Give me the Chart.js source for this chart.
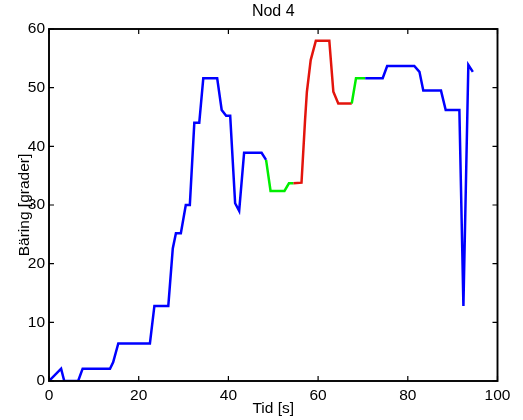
<!DOCTYPE html>
<html>
<head>
<meta charset="utf-8">
<script src="https://cdn.jsdelivr.net/npm/chart.js@4.4.0/dist/chart.umd.min.js"></script>
<style>
  html, body { margin: 0; padding: 0; background: #fff; }
  #wrap { width: 523px; height: 420px; }
</style>
</head>
<body>
<div id="wrap"><canvas id="c" width="523" height="420"></canvas></div>
<script>
// ---- data ----
const chartTitle = "Nod 4";
const xTitle = "Tid [s]";
const yTitle = "Bäring [grader]";
const xTicks = [0, 20, 40, 60, 80, 100];
const yTicks = [0, 10, 20, 30, 40, 50, 60];

const time = [0, 2.7, 3.4, 6.5, 7.5, 13.6, 14.3, 15.45, 22.5, 23.5, 26.6, 27.6, 28.3, 29.4,
  30.5, 31.4, 32.4, 33.5, 34.4, 37.5, 38.5, 39.5, 40.4, 41.5, 42.4, 43.5, 47.4, 48.4,
  49.4, 52.5, 53.5, 54.5, 56.3, 57.1, 57.5, 58.35, 59.5, 62.5, 63.4, 64.5, 67.5,
  68.45, 70.5, 74.4, 75.4, 81.45, 82.6, 83.45, 87.4, 88.45, 91.5, 92.4, 93.5, 94.5];
const bearing = [0, 2.1, 0, 0, 2.1, 2.1, 3.2, 6.4, 6.4, 12.8, 12.8, 22.6, 25.2, 25.2,
  30, 30, 44, 44, 51.6, 51.6, 46.2, 45.2, 45.2, 30.3, 29, 38.9, 38.9, 37.7,
  32.4, 32.4, 33.7, 33.7, 33.8, 44.6, 49.3, 54.7, 58, 58, 49.3, 47.3, 47.3,
  51.6, 51.6, 51.6, 53.7, 53.7, 52.7, 49.5, 49.5, 46.2, 46.2, 12.8, 53.9, 52.7];

// time ranges drawn in other colours
const greenRanges = [[48.4, 54.5], [67.5, 70.5]];
const redRanges = [[54.5, 67.5]];

const colBlue = "#0000ff";
const colGreen = "#00ee00";
const colRed = "#e3140c";

const points = time.map((t, i) => ({ x: t, y: bearing[i] }));

function inRanges(v, ranges) {
  return ranges.some(r => v >= r[0] && v <= r[1]);
}
function segColor(ctx) {
  const mid = (ctx.p0.parsed.x + ctx.p1.parsed.x) / 2;
  if (inRanges(mid, redRanges)) return colRed;
  if (inRanges(mid, greenRanges)) return colGreen;
  return colBlue;
}

const FONT = "'Liberation Sans', Arial, Helvetica, sans-serif";
const FS = 15.5;

const framePlugin = {
  id: 'frame',
  afterDraw(chart) {
    const { ctx, chartArea: a, scales } = chart;
    ctx.save();
    ctx.strokeStyle = '#000';
    ctx.lineWidth = 1.2;
    const tl = 5;
    ctx.beginPath();
    xTicks.forEach(v => {
      const px = scales.x.getPixelForValue(v);
      ctx.moveTo(px, a.bottom); ctx.lineTo(px, a.bottom - tl);
      ctx.moveTo(px, a.top); ctx.lineTo(px, a.top + tl);
    });
    yTicks.forEach(v => {
      const py = scales.y.getPixelForValue(v);
      ctx.moveTo(a.left, py); ctx.lineTo(a.left + tl, py);
      ctx.moveTo(a.right, py); ctx.lineTo(a.right - tl, py);
    });
    ctx.stroke();
    ctx.lineWidth = 1.9;
    ctx.strokeRect(a.left, a.top, a.right - a.left, a.bottom - a.top);
    // title centred over the plot area
    ctx.fillStyle = '#000';
    ctx.font = "16px " + FONT;
    ctx.textAlign = 'center';
    ctx.textBaseline = 'middle';
    ctx.fillText(chartTitle, (a.left + a.right) / 2, 12);
    ctx.restore();
  }
};

new Chart(document.getElementById('c'), {
  type: 'line',
  data: {
    datasets: [{
      data: points,
      borderWidth: 2.5,
      borderColor: colBlue,
      pointRadius: 0,
      tension: 0,
      fill: false,
      segment: { borderColor: segColor }
    }]
  },
  options: {
    responsive: false,
    animation: false,
    events: [],
    layout: { padding: { left: 0, right: 25.5, top: 29, bottom: 0 } },
    plugins: {
      legend: { display: false },
      tooltip: { enabled: false },
      title: { display: false }
    },
    scales: {
      x: {
        type: 'linear',
        min: 0, max: 100,
        afterFit(s) { s.height = 39; },
        afterBuildTicks(s) { s.ticks = xTicks.map(v => ({ value: v })); },
        grid: { display: false, drawTicks: false },
        border: { display: false },
        ticks: { color: '#000', padding: 5, maxRotation: 0, autoSkip: false,
                 font: { family: FONT, size: FS } },
        title: { display: true, text: xTitle, color: '#000',
                 font: { family: FONT, size: FS, lineHeight: 1.2 },
                 padding: { top: 0, bottom: 1.5 } }
      },
      y: {
        type: 'linear',
        min: 0, max: 60,
        afterFit(s) { s.width = 49; },
        afterBuildTicks(s) { s.ticks = yTicks.map(v => ({ value: v })); },
        grid: { display: false, drawTicks: false },
        border: { display: false },
        ticks: { color: '#000', padding: 4, autoSkip: false,
                 font: { family: FONT, size: FS } },
        title: { display: true, text: yTitle, color: '#000',
                 font: { family: FONT, size: FS, lineHeight: 1.2 },
                 padding: { top: 15, bottom: 0 } }
      }
    }
  },
  plugins: [framePlugin]
});
</script>
</body>
</html>
